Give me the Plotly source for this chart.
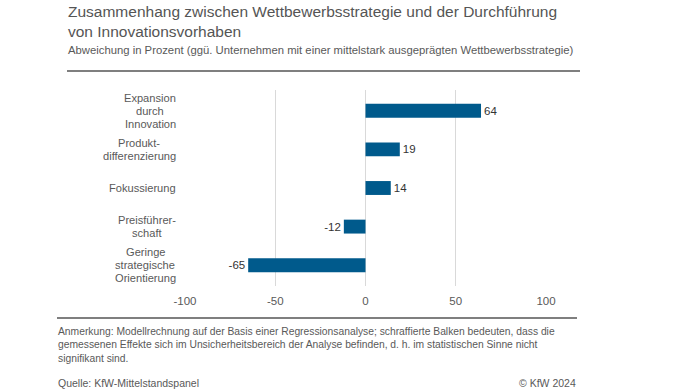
import plotly.graph_objects as go

categories = ["Expansion durch Innovation", "Produktdifferenzierung", "Fokussierung",
              "Preisführerschaft", "Geringe strategische Orientierung"]
category_lines = [["Expansion", "durch", "Innovation"], ["Produkt-", "differenzierung"], ["Fokussierung"],
                  ["Preisführer-", "schaft"], ["Geringe", "strategische", "Orientierung"]]
values = [64, 19, 14, -12, -65]
x_ticks = [-100, -50, 0, 50, 100]

BAR = "#005A8C"
GREY = "#595959"
FONT = "Liberation Sans, Arial, sans-serif"

L, R, T, B = 185, 546, 90, 286  # plot area in pixels

def px_x(px):
    return (px - L) / (R - L)

def px_y(py):
    return (B - py) / (B - T)

# Arial advance widths (per 1000 em) to centre multi-line labels
AW = dict(a=556, b=556, c=500, d=556, e=556, f=278, g=556, h=556, i=222, j=222, k=500, l=222,
          m=833, n=556, o=556, p=556, q=556, r=333, s=500, t=278, u=556, v=500, w=722, x=500,
          y=500, z=500, E=667, I=278, P=667, F=611, G=778, O=778)
AW["ü"] = 556
AW["-"] = 333

def text_w(s, size):
    return sum(AW.get(ch, 556) for ch in s) * size / 1000

fig = go.Figure()
fig.add_trace(go.Bar(
    y=categories, x=values, orientation="h",
    marker=dict(color=BAR, line=dict(width=0)),
    width=0.36,
    text=[str(v) for v in values], textposition="outside",
    textfont=dict(family=FONT, size=11.5, color="#333333"),
    cliponaxis=False,
))

fig.update_layout(
    width=696, height=392,
    margin=dict(l=L, r=696 - R, t=T, b=392 - B),
    paper_bgcolor="white", plot_bgcolor="white",
    showlegend=False,
    font=dict(family=FONT, color=GREY),
    xaxis=dict(range=[-100, 100], tickvals=x_ticks, ticktext=[str(t) for t in x_ticks],
               showgrid=True, gridcolor="#d9d9d9", gridwidth=1, zeroline=False,
               showline=False, ticks="", ticklabelstandoff=6,
               tickfont=dict(size=11.5, color=GREY)),
    yaxis=dict(autorange="reversed", showticklabels=False, showgrid=False,
               zeroline=False, showline=False),
)

# category labels, one annotation per line for tight line spacing
LINE = 12.8
LSIZE = 11.1
RIGHT = 176
for cat, lines in zip(categories, category_lines):
    n = len(lines)
    maxw = max(text_w(ln, LSIZE) for ln in lines)
    cx = RIGHT - maxw / 2
    for i, ln in enumerate(lines):
        fig.add_annotation(x=px_x(cx), xref="paper", y=cat, yref="y", text=ln,
                           xanchor="center", yanchor="middle", showarrow=False,
                           yshift=((n - 1) / 2 - i) * LINE,
                           font=dict(size=LSIZE, color=GREY, family=FONT))

texts = [
    dict(text="Zusammenhang zwischen Wettbewerbsstrategie und der Durchführung<br>von Innovationsvorhaben",
         x=66, y=1, size=15.5, color="#555555"),
    dict(text="Abweichung in Prozent (ggü. Unternehmen mit einer mittelstark ausgeprägten Wettbewerbsstrategie)",
         x=66, y=42, size=11.3, color=GREY),
    dict(text="Anmerkung: Modellrechnung auf der Basis einer Regressionsanalyse; schraffierte Balken bedeuten, dass die<br>"
              "gemessenen Effekte sich im Unsicherheitsbereich der Analyse befinden, d. h. im statistischen Sinne nicht<br>"
              "signifikant sind.",
         x=56, y=324, size=10.3, color=GREY),
    dict(text="Quelle: KfW-Mittelstandspanel", x=56, y=375, size=10.5, color=GREY),
]
for a in texts:
    fig.add_annotation(text=a["text"], x=px_x(a["x"]), xref="paper", y=px_y(a["y"]), yref="paper",
                       xanchor="left", yanchor="top", align="left", showarrow=False,
                       font=dict(size=a["size"], color=a["color"], family=FONT))
fig.add_annotation(text="© KfW 2024", x=px_x(578), xref="paper", y=px_y(375), yref="paper",
                   xanchor="right", yanchor="top", showarrow=False,
                   font=dict(size=10.5, color=GREY, family=FONT))

# separator lines
for y0, x0, x1 in [(71, 67, 580), (318, 57, 577)]:
    fig.add_shape(type="line", xref="paper", yref="paper",
                  x0=px_x(x0), x1=px_x(x1), y0=px_y(y0), y1=px_y(y0),
                  line=dict(color="#7f7f7f", width=2))

fig.write_html("out.html", config={"displayModeBar": False},
               post_script="document.body.style.margin='0';")
